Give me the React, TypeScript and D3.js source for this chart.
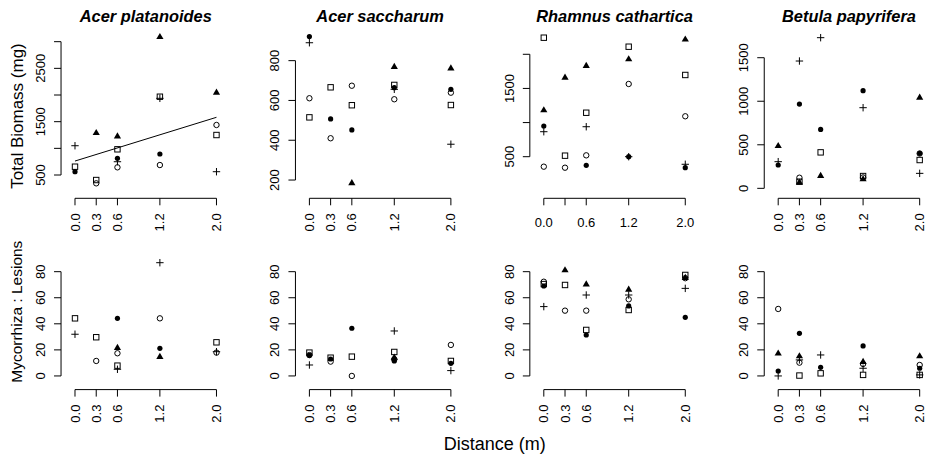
import React from 'react';
import * as d3 from 'd3';

// ---------- data ----------
const distances = [0, 0.3, 0.6, 1.2, 2.0];
const speciesNames = ['Acer platanoides', 'Acer saccharum', 'Rhamnus cathartica', 'Betula papyrifera'];
// marker order for the 5 series rows: filled circle, open circle, open square, filled triangle, plus
const seriesMarkers = ['filledCircle', 'openCircle', 'openSquare', 'filledTriangle', 'plus'];

// Total biomass (mg), rows = series, columns = distances
const biomassAcerPlatanoides = [
  [562, null, 813, 894, null],
  [null, 344, 644, 687, 1438],
  [656, 406, 982, 1968, 1250],
  [null, 1293, 1231, 3093, 2051],
  [1049, null, 749, 1938, 562],
];
const biomassAcerSaccharum = [
  [921, 507, 452, 664, 656],
  [611, 410, 674, 606, 639],
  [515, 666, 576, 678, 577],
  [null, null, 186, 770, 762],
  [890, null, null, 656, 380],
];
const biomassRhamnus = [
  [950, null, 374, 500, 339],
  [354, 339, 520, 1565, 1092],
  [2243, 515, 1144, 2111, 1697],
  [1184, 1663, 1833, 1931, 2220],
  [866, null, 939, 500, 389],
];
const biomassBetula = [
  [268, 968, 677, 1121, 402],
  [null, 122, null, 125, 400],
  [null, 76, 413, 141, 325],
  [489, 70, 145, 107, 1045],
  [306, 1462, 1730, 926, 172],
];

// Mycorrhiza : Lesions
const ratioAcerPlatanoides = [
  [null, null, 44.2, 21.2, null],
  [null, 11.5, 17.4, 44.2, 17.9],
  [44.2, 29.7, 7.9, null, 25.8],
  [null, null, 21.7, 14.8, null],
  [32, null, 5.1, 86.9, 18.6],
];
const ratioAcerSaccharum = [
  [15.8, 13, 36.6, 11.5, 9.7],
  [16, 11, 0, 12.7, 23.8],
  [17.9, 14, 14.8, 18.4, 11.5],
  [null, null, null, 14.3, null],
  [8.4, null, null, 34.5, 4.1],
];
const ratioRhamnus = [
  [69, null, 31.4, 53.7, 45],
  [72.3, 50.1, 50.1, 58.8, 75],
  [70.5, 69.8, 35.3, 50.6, 77.5],
  [null, 81.3, 70.5, 66.5, 75.5],
  [53.2, null, 62.1, 62.1, 67.2],
];
const ratioBetula = [
  [3.8, 32.7, 6.6, 23, 5.9],
  [51.4, 10.2, null, 9.2, 8.4],
  [null, 0.3, 2.0, 0.8, 0.8],
  [17.4, 15.3, null, 11, 15.3],
  [0, 12.3, 16.1, 5.9, 0.8],
];

const biomassData = [biomassAcerPlatanoides, biomassAcerSaccharum, biomassRhamnus, biomassBetula];
const ratioData = [ratioAcerPlatanoides, ratioAcerSaccharum, ratioRhamnus, ratioBetula];

// axis limits and ticks
const biomassDomains = [[234, 3204], [154, 950], [24, 2344], [-10, 1809]];
const biomassTicks = [
  [500, 1000, 1500, 2000, 2500, 3000],
  [200, 400, 600, 800],
  [500, 1000, 1500, 2000],
  [0, 500, 1000, 1500],
];
const biomassTickLabels = [
  [500, 1500, 2500],
  [200, 400, 600, 800],
  [500, 1500],
  [0, 500, 1000, 1500],
];
const ratioDomain = [-3.5, 90.5];
const ratioTicks = [0, 20, 40, 60, 80];
const xDomain = [-0.08, 2.08];

// fitted line for Acer platanoides biomass: [distance, biomass]
const fitAcerPlatanoides = [[0, 762], [2, 1582]];

// ---------- layout ----------
const W = 929;
const H = 457;
const FONT = "'Liberation Sans', Arial, Helvetica, sans-serif";
const panelPitch = 234.4;
const regionLeft0 = 69.34;
const regionWidth = 152.8;
const topRegion = [189.2, 30.8];
const bottomRegion = [380.5, 258];
const axisGap = 8.3;
const tickLen = 7;
const tickFont = 13;

function Marker({ kind, x, y }: { kind: string; x: number; y: number }) {
  switch (kind) {
    case 'filledCircle':
      return <circle cx={x} cy={y} r={2.6} fill="#000" />;
    case 'openCircle':
      return <circle cx={x} cy={y} r={2.7} fill="none" stroke="#000" strokeWidth={1} />;
    case 'openSquare':
      return <rect x={x - 2.7} y={y - 2.7} width={5.4} height={5.4} fill="none" stroke="#000" strokeWidth={1} />;
    case 'filledTriangle': {
      const h = 6.2, s = 3.6;
      return <path d={`M${x},${y - h * 0.62}L${x + s},${y + h * 0.38}L${x - s},${y + h * 0.38}Z`} fill="#000" />;
    }
    case 'plus':
      return <path d={`M${x - 3.7},${y}H${x + 3.7}M${x},${y - 3.7}V${y + 3.7}`} stroke="#000" strokeWidth={1} fill="none" />;
    default:
      return null;
  }
}

function Panel({ idx, row }: { idx: number; row: 'top' | 'bottom' }) {
  const left = regionLeft0 + idx * panelPitch;
  const x = d3.scaleLinear().domain(xDomain).range([left, left + regionWidth]);
  const isTop = row === 'top';
  const y = d3
    .scaleLinear()
    .domain(isTop ? biomassDomains[idx] : ratioDomain)
    .range(isTop ? topRegion : bottomRegion);
  const data = isTop ? biomassData[idx] : ratioData[idx];
  const yTicks = isTop ? biomassTicks[idx] : ratioTicks;
  const yLabels = isTop ? biomassTickLabels[idx] : ratioTicks;
  const axisX = left - axisGap;
  const axisY = (isTop ? topRegion[0] : bottomRegion[0]) + 9.1;
  const horizontalX = isTop && idx === 2;
  const xLabelVals = horizontalX ? [0, 0.6, 1.2, 2.0] : distances;
  const fmt = d3.format('.1f');
  const line = d3.line<number[]>().x((d) => x(d[0])).y((d) => y(d[1]));

  return (
    <g>
      {isTop && (
        <text
          x={left + regionWidth / 2}
          y={22}
          textAnchor="middle"
          fontFamily={FONT}
          fontWeight="bold"
          fontStyle="italic"
          fontSize={16.4}
        >
          {speciesNames[idx]}
        </text>
      )}
      {/* y axis */}
      <path
        d={`M${axisX},${y(yTicks[0])}V${y(yTicks[yTicks.length - 1])}`}
        stroke="#000"
        fill="none"
      />
      {yTicks.map((t) => (
        <path key={'yt' + t} d={`M${axisX},${y(t)}H${axisX - tickLen}`} stroke="#000" />
      ))}
      {yLabels.map((t) => (
        <text
          key={'yl' + t}
          transform={`translate(${axisX - 16},${y(t)}) rotate(-90)`}
          textAnchor="middle"
          fontFamily={FONT}
          fontSize={tickFont}
        >
          {t}
        </text>
      ))}
      {/* x axis */}
      <path d={`M${x(distances[0])},${axisY}H${x(distances[distances.length - 1])}`} stroke="#000" fill="none" />
      {distances.map((d) => (
        <path key={'xt' + d} d={`M${x(d)},${axisY}V${axisY + tickLen}`} stroke="#000" />
      ))}
      {xLabelVals.map((d) =>
        horizontalX ? (
          <text
            key={'xl' + d}
            x={x(d)}
            y={axisY + 28.4}
            textAnchor="middle"
            fontFamily={FONT}
            fontSize={tickFont}
          >
            {fmt(d)}
          </text>
        ) : (
          <text
            key={'xl' + d}
            transform={`translate(${x(d) + 4.6},${axisY + 15}) rotate(-90)`}
            textAnchor="end"
            fontFamily={FONT}
            fontSize={tickFont}
          >
            {fmt(d)}
          </text>
        )
      )}
      {isTop && idx === 0 && <path d={line(fitAcerPlatanoides) || ''} stroke="#000" fill="none" strokeWidth={1} />}
      {data.map((series, si) =>
        series.map((v, di) =>
          v == null ? null : <Marker key={`m${si}-${di}`} kind={seriesMarkers[si]} x={x(distances[di])} y={y(v)} />
        )
      )}
    </g>
  );
}

export default function App() {
  return (
    <svg
      width={W}
      height={H}
      viewBox={`0 0 ${W} ${H}`}
      style={{ position: 'absolute', left: 0, top: 0, background: '#fff' }}
    >
      <rect x={0} y={0} width={W} height={H} fill="#fff" />
      {[0, 1, 2, 3].map((i) => (
        <Panel key={'t' + i} idx={i} row="top" />
      ))}
      {[0, 1, 2, 3].map((i) => (
        <Panel key={'b' + i} idx={i} row="bottom" />
      ))}
      <text transform="translate(22.5,116) rotate(-90)" textAnchor="middle" fontFamily={FONT} fontSize={17}>
        Total Biomass (mg)
      </text>
      <text transform="translate(22,311.7) rotate(-90)" textAnchor="middle" fontFamily={FONT} fontSize={15.5}>
        Mycorrhiza : Lesions
      </text>
      <text x={494.7} y={450} textAnchor="middle" fontFamily={FONT} fontSize={18}>
        Distance (m)
      </text>
    </svg>
  );
}
